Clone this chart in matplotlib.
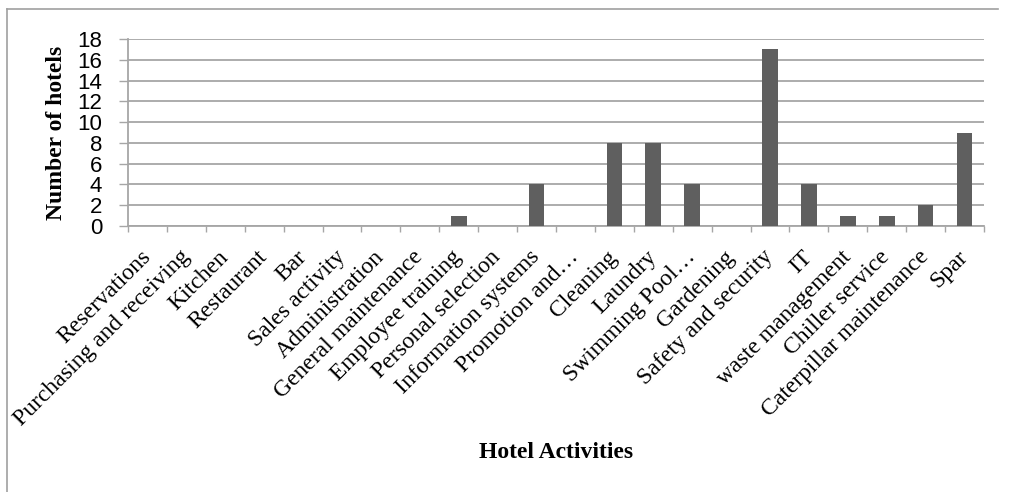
import matplotlib.pyplot as plt
from matplotlib.lines import Line2D
import numpy as np

# data
activities = ['Reservations', 'Purchasing and receiving', 'Kitchen', 'Restaurant', 'Bar',
              'Sales activity', 'Administration', 'General maintenance', 'Employee training',
              'Personal selection', 'Information systems', 'Promotion and\u2026', 'Cleaning',
              'Laundry', 'Swimming Pool\u2026', 'Gardening', 'Safety and security', 'IT',
              'waste management', 'Chiller service', 'Caterpillar maintenance', 'Spar']
hotels = [0, 0, 0, 0, 0, 0, 0, 0, 1, 0, 4, 0, 8, 8, 4, 0, 17, 4, 1, 1, 2, 9]
yticks = list(range(0, 19, 2))

serif = 'Liberation Serif'
grid_col = '#a6a6a6'

fig = plt.figure(figsize=(10.09, 4.92), dpi=100)
ax = fig.add_axes([128/1009, 1 - 226/492, (984 - 128)/1009, (226 - 39)/492])

x = np.arange(len(activities))
ax.bar(x, hotels, width=0.4, color='#5f5f5f', zorder=3)

ax.set_xlim(-0.5, len(activities) - 0.5)
ax.set_ylim(0, 18)
ax.set_yticks(yticks)
ax.set_yticklabels([str(v) for v in yticks], family='Liberation Sans', fontsize=16)
ax.yaxis.grid(True, color=grid_col, linewidth=1.3, zorder=0)
ax.tick_params(axis='y', length=6.5, color=grid_col, width=1.0, pad=12)

# category labels at centres, tick marks at boundaries
ax.set_xticks(x)
ax.set_xticklabels(activities, rotation=45, ha='right', va='center',
                   rotation_mode='anchor', family=serif, fontsize=17)
ax.tick_params(axis='x', which='major', length=0, pad=20)
ax.set_xticks(np.arange(-0.5, len(activities)), minor=True)
ax.tick_params(axis='x', which='minor', length=4.5, color=grid_col, width=1.0, direction='out')

for s in ['top', 'right']:
    ax.spines[s].set_visible(False)
for s in ['left', 'bottom']:
    ax.spines[s].set_color(grid_col)
    ax.spines[s].set_linewidth(1.3)

ax.set_ylabel('Number of hotels', family=serif, fontsize=17, fontweight='bold')
ax.yaxis.set_label_coords((67 - 128)/856, 0.5)
fig.text(556/1009, 1 - 452/492, 'Hotel Activities', family=serif, fontsize=17,
         fontweight='bold', ha='center', va='center')

# outer chart frame (left and top edges visible)
fig.add_artist(Line2D([7/1009, 7/1009], [0, 1 - 9/492], color='#a0a0a0', linewidth=1.2,
                      transform=fig.transFigure))
fig.add_artist(Line2D([7/1009, 998/1009], [1 - 9/492, 1 - 9/492], color='#a0a0a0',
                      linewidth=1.2, transform=fig.transFigure))

fig.savefig('out.png', dpi=100)
